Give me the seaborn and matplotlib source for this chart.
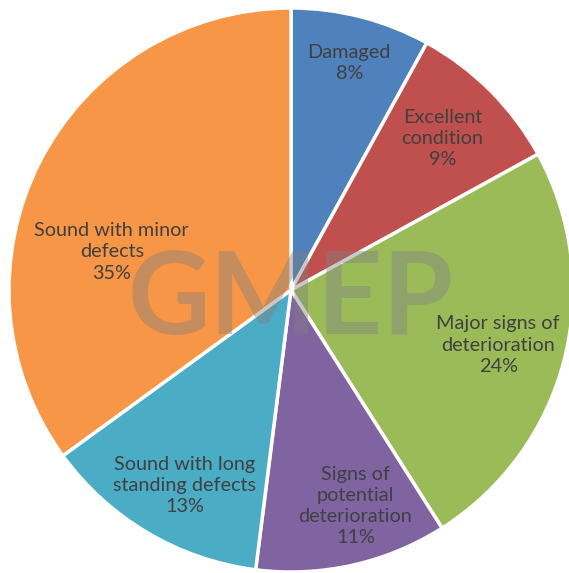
import numpy as np
import matplotlib
matplotlib.use('Agg')
import matplotlib.pyplot as plt
import seaborn as sns

# categories and shares (percent), clockwise from 12 o'clock
categories = ['Damaged', 'Excellent\ncondition', 'Major signs of\ndeterioration',
              'Signs of\npotential\ndeterioration', 'Sound with long\nstanding defects',
              'Sound with minor\ndefects']
shares = [8, 9, 24, 11, 13, 35]
colors = ['#4F81BD', '#C0504D', '#9BBB59', '#8064A2', '#4BACC6', '#F79646']

# label placement (radius fraction, angle nudge in degrees)
label_r = [0.83, 0.76, 0.76, 0.80, 0.79, 0.65]
label_nudge = [0, 0, -0.5, 4, 2, 15]

sns.set_style('white')
plt.rcParams['font.family'] = ['Lato', 'DejaVu Sans']

fig = plt.figure(figsize=(5.69, 5.73), dpi=100)
ax = fig.add_axes([0, 0, 1, 1])

wedges, _ = ax.pie(shares, colors=colors, startangle=90, counterclock=False,
                   radius=1.0, wedgeprops=dict(edgecolor='white', linewidth=2.5))

for w, cat, s, r, nd in zip(wedges, categories, shares, label_r, label_nudge):
    mid = np.deg2rad((w.theta1 + w.theta2) / 2 + nd)
    ax.text(r * np.cos(mid), r * np.sin(mid), f'{cat}\n{s}%', ha='center', va='center',
            fontsize=14.3, color='#404040', linespacing=1.3)

# watermark
ax.text(0.0, -0.155, 'GMEP', ha='center', va='baseline', fontsize=82, fontweight='bold',
        color='#808080', alpha=0.42, zorder=10)

cx, cy, R = 291, 290, 282
ax.set_xlim(-cx / R, (569 - cx) / R)
ax.set_ylim(-(573 - cy) / R, cy / R)
ax.set_aspect('auto')
ax.axis('off')

fig.savefig('out.png', dpi=100, facecolor='white')
